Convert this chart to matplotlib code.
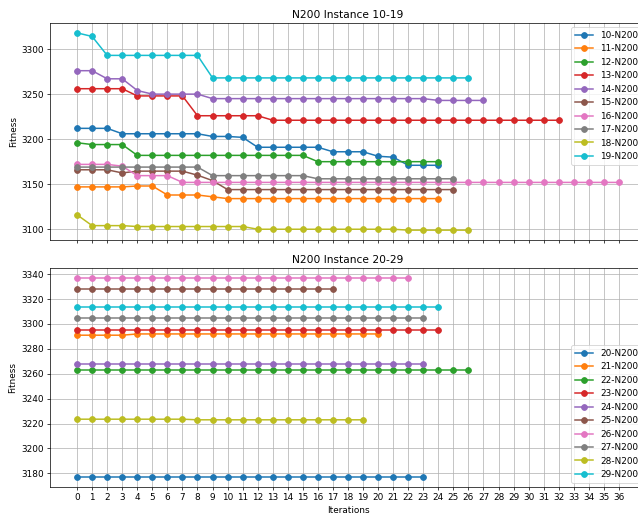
import matplotlib
matplotlib.use("Agg")
import matplotlib.pyplot as plt

"""
Best fitness per iteration, N200 instances
"""
ITERATIONS = list(range(37))

# instances 10-19
fit_10 = [3212, 3212, 3212, 3206, 3206, 3206, 3206, 3206, 3206, 3203, 3203, 3202, 3191,
          3191, 3191, 3191, 3191, 3186, 3186, 3186, 3181, 3180, 3171, 3171, 3171]
fit_11 = [3147, 3147, 3147, 3147, 3148, 3148, 3138, 3138, 3138, 3136, 3134, 3134, 3134,
          3134, 3134, 3134, 3134, 3134, 3134, 3134, 3134, 3134, 3134, 3134, 3134]
fit_12 = [3196, 3194, 3194, 3194, 3182, 3182, 3182, 3182, 3182, 3182, 3182, 3182, 3182,
          3182, 3182, 3182, 3175, 3175, 3175, 3175, 3175, 3175, 3175, 3175, 3175]
fit_13 = [3256, 3256, 3256, 3256, 3248, 3248, 3248, 3248, 3226, 3226, 3226, 3226, 3226,
          3221, 3221, 3221, 3221, 3221, 3221, 3221, 3221, 3221, 3221, 3221, 3221, 3221,
          3221, 3221, 3221, 3221, 3221, 3221, 3221]
fit_14 = [3276, 3276, 3267, 3267, 3254, 3250, 3250, 3250, 3250, 3245, 3245, 3245, 3245,
          3245, 3245, 3245, 3245, 3245, 3245, 3245, 3245, 3245, 3245, 3245, 3243, 3243,
          3243, 3243]
fit_15 = [3166, 3166, 3166, 3162.5, 3164.5, 3164.5, 3164.5, 3164.5, 3160, 3154, 3144,
          3144, 3144, 3144, 3144, 3144, 3144, 3144, 3144, 3144, 3144, 3144, 3144, 3144,
          3144, 3144]
fit_16 = [3172, 3172, 3172, 3170, 3159.5, 3159.5, 3159.5, 3152, 3152, 3152, 3152, 3152,
          3152, 3152, 3152, 3152, 3152, 3152, 3152, 3152, 3152, 3152, 3152, 3152, 3152,
          3152, 3152, 3152, 3152, 3152, 3152, 3152, 3152, 3152, 3152, 3152, 3152]
fit_17 = [3169, 3169, 3169, 3169, 3169, 3169, 3169, 3169, 3169, 3159.5, 3159.5, 3159.5,
          3159.5, 3159.5, 3159.5, 3159.5, 3156, 3156, 3156, 3156, 3156, 3156, 3156, 3156,
          3156, 3156]
fit_18 = [3116, 3104, 3104, 3104, 3103, 3103, 3103, 3103, 3103, 3103, 3103, 3103, 3100,
          3100, 3100, 3100, 3100, 3100, 3100, 3100, 3100, 3100, 3099, 3099, 3099, 3099,
          3099]
fit_19 = [3318, 3314, 3293, 3293, 3293, 3293, 3293, 3293, 3293, 3268, 3268, 3268, 3268,
          3268, 3268, 3268, 3268, 3268, 3268, 3268, 3268, 3268, 3268, 3268, 3268, 3268,
          3268]

# instances 20-29
fit_20 = [3177, 3177, 3177, 3177, 3177, 3177, 3177, 3177, 3177, 3177, 3177, 3177, 3177,
          3177, 3177, 3177, 3177, 3177, 3177, 3177, 3177, 3177, 3177, 3177]
fit_21 = [3291, 3291, 3291, 3291, 3292, 3292, 3292, 3292, 3292, 3292, 3292, 3292, 3292,
          3292, 3292, 3292, 3292, 3292, 3292, 3292, 3292]
fit_22 = [3263, 3263, 3263, 3263, 3263, 3263, 3263, 3263, 3263, 3263, 3263, 3263, 3263,
          3263, 3263, 3263, 3263, 3263, 3263, 3263, 3263, 3263, 3263, 3263, 3263, 3263,
          3263]
fit_23 = [3295, 3295, 3295, 3295, 3295, 3295, 3295, 3295, 3295, 3295, 3295, 3295, 3295,
          3295, 3295, 3295, 3295, 3295, 3295, 3295, 3295, 3295, 3295, 3295, 3295]
fit_24 = [3268, 3268, 3268, 3268, 3268, 3268, 3268, 3268, 3268, 3268, 3268, 3268, 3268,
          3268, 3268, 3268, 3268, 3268, 3268, 3268, 3268, 3268, 3268, 3268]
fit_25 = [3328, 3328, 3328, 3328, 3328, 3328, 3328, 3328, 3328, 3328, 3328, 3328, 3328,
          3328, 3328, 3328, 3328, 3328]
fit_26 = [3337, 3337, 3337, 3337, 3337, 3337, 3337, 3337, 3337, 3337, 3337, 3337, 3337,
          3337, 3337, 3337, 3337, 3337, 3337, 3337, 3337, 3337, 3337]
fit_27 = [3305, 3305, 3305, 3305, 3305, 3305, 3305, 3305, 3305, 3305, 3305, 3305, 3305,
          3305, 3305, 3305, 3305, 3305, 3305, 3305, 3305, 3305, 3305, 3305]
fit_28 = [3223.5, 3223.5, 3223.5, 3223.5, 3223.5, 3223.5, 3223.5, 3223.5, 3223, 3223,
          3223, 3223, 3223, 3223, 3223, 3223, 3223, 3223, 3223, 3223]
fit_29 = [3314, 3314, 3314, 3314, 3314, 3314, 3314, 3314, 3314, 3314, 3314, 3314, 3314,
          3314, 3314, 3314, 3314, 3314, 3314, 3314, 3314, 3314, 3314, 3314, 3314]

labels_top = [f"{i}-N200" for i in range(10, 20)]
labels_bottom = [f"{i}-N200" for i in range(20, 30)]
runs_top = [fit_10, fit_11, fit_12, fit_13, fit_14, fit_15, fit_16, fit_17, fit_18, fit_19]
runs_bottom = [fit_20, fit_21, fit_22, fit_23, fit_24, fit_25, fit_26, fit_27, fit_28, fit_29]


def plot_runs(ax, runs, labels, title, legend_loc):
    for fit, label in zip(runs, labels):
        ax.plot(ITERATIONS[:len(fit)], fit, marker='o', markersize=6.5, linewidth=1.7, label=label)
    ax.set_title(title)
    ax.set_ylabel('Fitness')
    ax.set_xticks(ITERATIONS)
    ax.grid(True)
    ax.legend(loc=legend_loc)


fig, axs = plt.subplots(2, 1, figsize=(638 / 64, 516 / 64), dpi=64, sharex=True)
plot_runs(axs[0], runs_top, labels_top, 'N200 Instance 10-19', 'upper right')
plot_runs(axs[1], runs_bottom, labels_bottom, 'N200 Instance 20-29', 'lower right')
axs[0].set_yticks([3100, 3150, 3200, 3250, 3300])
axs[1].set_xlabel('Iterations')

# axes run past the right border, the figure is cut there
axs[0].set_position([50 / 638, 276 / 516, 596 / 638, 217 / 516])
axs[1].set_position([50 / 638, 29 / 516, 596 / 638, 219 / 516])

fig.savefig("out.png", dpi=64)
